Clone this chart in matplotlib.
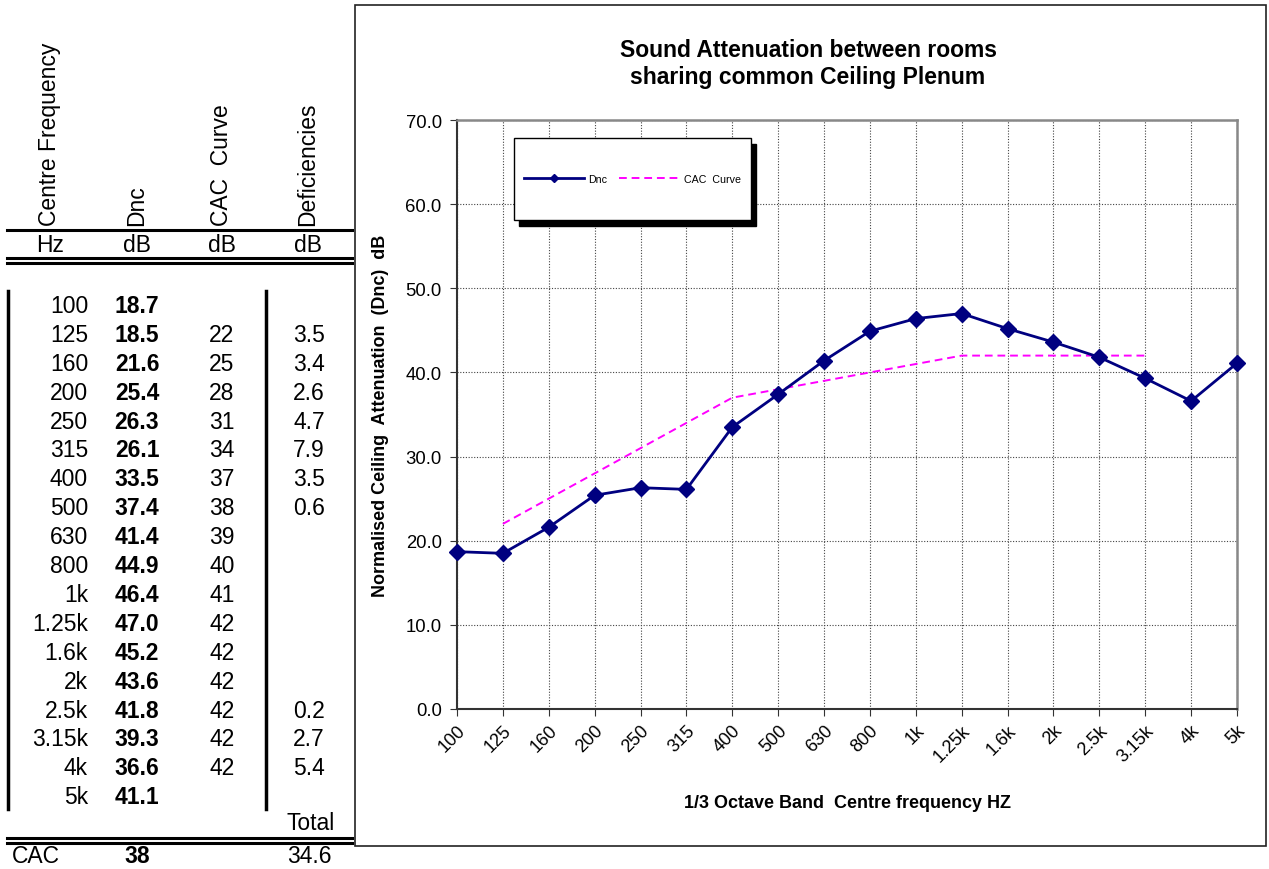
import matplotlib
matplotlib.use("Agg")
import matplotlib.pyplot as plt
from matplotlib.patches import Rectangle
from matplotlib.lines import Line2D

plt.rcParams['font.family'] = ['Liberation Sans', 'DejaVu Sans']

# data
freq_labels = ['100', '125', '160', '200', '250', '315', '400', '500', '630', '800',
               '1k', '1.25k', '1.6k', '2k', '2.5k', '3.15k', '4k', '5k']
dnc = [18.7, 18.5, 21.6, 25.4, 26.3, 26.1, 33.5, 37.4, 41.4, 44.9,
       46.4, 47.0, 45.2, 43.6, 41.8, 39.3, 36.6, 41.1]
# CAC reference contour, 125 Hz .. 4 kHz (table); plotted up to 3.15 kHz
cac_curve = ['', 22, 25, 28, 31, 34, 37, 38, 39, 40, 41, 42, 42, 42, 42, 42, 42, '']
deficiencies = ['', 3.5, 3.4, 2.6, 4.7, 7.9, 3.5, 0.6, '', '', '', '', '', '', 0.2, 2.7, 5.4, '']
total_def = 34.6
cac_value = 38

W, H = 1269, 870
fig = plt.figure(figsize=(W / 100, H / 100), dpi=100)


def fx(px):
    return px / W


def fy(py):
    return 1 - py / H


# ---------- table on the left ----------
fs = 16.5
headers = ['Centre Frequency', 'Dnc', 'CAC  Curve', 'Deficiencies']
units = ['Hz', 'dB', 'dB', 'dB']
col_x = [50, 137, 222, 308]
for cx, h in zip(col_x, headers):
    fig.text(fx(cx), fy(226), h, rotation=90, ha='center', va='bottom', fontsize=fs)
for cx, u in zip(col_x, units):
    fig.text(fx(cx), fy(246), u, ha='center', va='center', fontsize=fs)

def hline(py, lw):
    fig.add_artist(Line2D([fx(7), fx(352)], [fy(py), fy(py)], color='black', lw=lw))

def vline(px, y0, y1, lw):
    fig.add_artist(Line2D([fx(px), fx(px)], [fy(y0), fy(y1)], color='black', lw=lw))

hline(231, 2.2)
hline(258.5, 2.2)
hline(263.5, 2.2)
vline(7.5, 292, 810, 2.5)
vline(266, 292, 810, 2.5)

row0, dy = 306.5, 28.9
for i, f in enumerate(freq_labels):
    yy = fy(row0 + i * dy)
    fig.text(fx(88), yy, f, ha='right', va='center', fontsize=fs)
    fig.text(fx(137), yy, f'{dnc[i]:.1f}', ha='center', va='center', fontsize=fs, fontweight='bold')
    if cac_curve[i] != '':
        fig.text(fx(222), yy, str(cac_curve[i]), ha='center', va='center', fontsize=fs)
    if deficiencies[i] != '':
        fig.text(fx(309), yy, f'{deficiencies[i]:.1f}', ha='center', va='center', fontsize=fs)

fig.text(fx(335), fy(824), 'Total', ha='right', va='center', fontsize=fs)
hline(838.5, 2.2)
hline(843.5, 2.2)
fig.text(fx(12), fy(857), 'CAC', ha='left', va='center', fontsize=fs)
fig.text(fx(137), fy(857), str(cac_value), ha='center', va='center', fontsize=fs, fontweight='bold')
fig.text(fx(309), fy(857), f'{total_def:.1f}', ha='center', va='center', fontsize=fs)

# ---------- chart frame ----------
fig.add_artist(Rectangle((fx(355), fy(847)), fx(1266) - fx(355), fy(6) - fy(847),
                         fill=False, edgecolor='#222222', lw=1.2))

ax = fig.add_axes([fx(457), fy(710), fx(1237) - fx(457), fy(121) - fy(710)])
x = list(range(len(freq_labels)))
ax.plot(x, dnc, color='#000080', lw=2, marker='D', ms=8.5, label='Dnc', zorder=3, clip_on=False)
cac_x = [i for i in x if cac_curve[i] != ''][:-1]
ax.plot(cac_x, [cac_curve[i] for i in cac_x], color='#FF00FF', lw=1.4,
        ls=(0, (4, 2.5)), label='CAC  Curve', zorder=2)

ax.set_xlim(0, len(freq_labels) - 1)
ax.set_ylim(0, 70)
ax.set_yticks(range(0, 71, 10))
ax.set_yticklabels([f'{v:.1f}' for v in range(0, 71, 10)], fontsize=13.3)
ax.set_xticks(x)
ax.set_xticklabels(freq_labels, rotation=45, fontsize=13, ha='right', rotation_mode='anchor')
ax.tick_params(axis='both', direction='out', length=5, color='#333333')
ax.tick_params(axis='x', pad=4)
ax.tick_params(axis='y', pad=6)
ax.grid(True, color='#444444', ls=(0, (1, 1.5)), lw=0.8)
for s in ['left', 'bottom']:
    ax.spines[s].set_color('#333333')
    ax.spines[s].set_linewidth(1.5)
for s in ['top', 'right']:
    ax.spines[s].set_color('#888888')
    ax.spines[s].set_linewidth(1.8)

ax.set_xlabel('1/3 Octave Band  Centre frequency HZ', fontsize=13, fontweight='bold', labelpad=21)
ax.set_ylabel('Normalised Ceiling  Attenuation  (Dnc)  dB', fontsize=13, fontweight='bold', labelpad=12)
fig.text(fx(808), fy(64), 'Sound Attenuation between rooms\nsharing common Ceiling Plenum',
         ha='center', va='center', fontsize=16.5, fontweight='bold', linespacing=1.2)

# legend box with shadow
lx0, lx1 = (514 - 457) / 780, (751 - 457) / 780
ly0, ly1 = (710 - 221) / 589, (710 - 139) / 589
sx, sy = 5 / 780, 6 / 589
ax.add_patch(Rectangle((lx0 + sx, ly0 - sy), lx1 - lx0, ly1 - ly0, transform=ax.transAxes,
                       facecolor='black', edgecolor='black', zorder=5))
ax.add_patch(Rectangle((lx0, ly0), lx1 - lx0, ly1 - ly0, transform=ax.transAxes,
                       facecolor='white', edgecolor='black', lw=1, zorder=6))
leg = ax.legend(loc='center', bbox_to_anchor=((lx0 + lx1) / 2, (ly0 + ly1) / 2),
                ncol=2, frameon=False, fontsize=7.7, handlelength=5.6, markerscale=0.45,
                handletextpad=0.4, columnspacing=1.1)
leg.set_zorder(7)

fig.savefig('out.png', dpi=100)
